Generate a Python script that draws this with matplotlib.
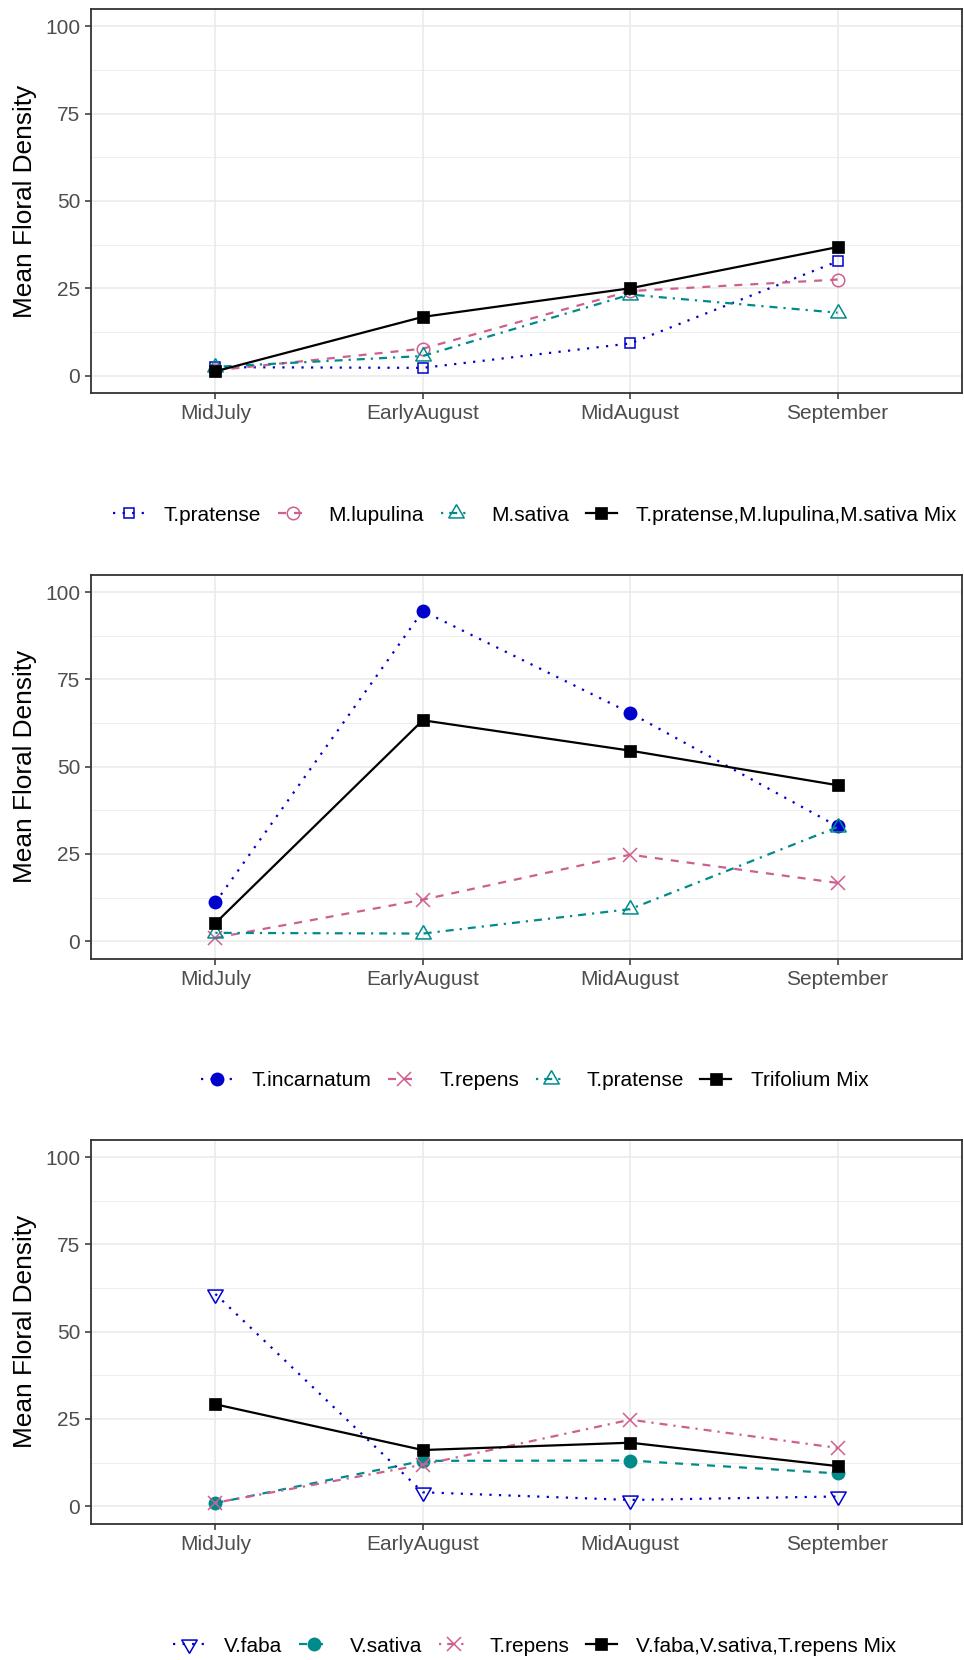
import matplotlib
matplotlib.use("Agg")
import matplotlib.pyplot as plt
from matplotlib.ticker import FixedLocator

plt.rcParams['font.family'] = ['Liberation Sans', 'DejaVu Sans']

periods = ["MidJuly", "EarlyAugust", "MidAugust", "September"]

# Panel 1
p1_names = ["T.pratense", "M.lupulina", "M.sativa", "T.pratense,M.lupulina,M.sativa Mix"]
p1_tpratense = [2.4, 2.2, 9.2, 32.7]
p1_mlupulina = [1.5, 7.7, 24.2, 27.5]
p1_msativa = [2.5, 5.6, 23.2, 18.0]
p1_mix = [1.2, 16.8, 25.0, 36.8]

# Panel 2
p2_names = ["T.incarnatum", "T.repens", "T.pratense", "Trifolium Mix"]
p2_tincarnatum = [11.1, 94.6, 65.4, 32.9]
p2_trepens = [1.0, 11.9, 24.8, 16.7]
p2_tpratense = [2.4, 2.2, 9.2, 32.7]
p2_mix = [5.2, 63.3, 54.6, 44.7]

# Panel 3
p3_names = ["V.faba", "V.sativa", "T.repens", "V.faba,V.sativa,T.repens Mix"]
p3_vfaba = [60.8, 4.0, 1.8, 2.8]
p3_vsativa = [0.9, 13.0, 13.1, 9.4]
p3_trepens = [1.0, 11.9, 24.8, 16.7]
p3_mix = [29.2, 16.1, 18.2, 11.5]

BLUE = "#0000CD"
PINK = "#CD6090"
TEAL = "#008B8B"
BLACK = "#000000"

TRI_UP = [(0, 1), (-0.866, -0.5), (0.866, -0.5), (0, 1)]
TRI_DN = [(0, -1), (-0.866, 0.5), (0.866, 0.5), (0, -1)]

LS_DOT = (0, (1, 3.3))
LS_DASH = (0, (3.6, 3.6))
LS_DOTDASH = (0, (1, 2.7, 3.6, 2.7))

def style(kind, color):
    d = dict(color=color, lw=1.6)
    if kind == "sq_open":
        d.update(marker="s", ms=7.5, mfc="none", mec=color, mew=1.1)
    elif kind == "sq_fill":
        d.update(marker="s", ms=8.0, mfc=color, mec=color, mew=0.5)
    elif kind == "circ_open":
        d.update(marker="o", ms=9.0, mfc="none", mec=color, mew=1.1)
    elif kind == "circ_fill":
        d.update(marker="o", ms=10.0, mfc=color, mec=color, mew=0)
    elif kind == "tri_up":
        d.update(marker=TRI_UP, ms=12.8, mfc="none", mec=color, mew=1.1)
    elif kind == "tri_dn":
        d.update(marker=TRI_DN, ms=12.8, mfc="none", mec=color, mew=1.1)
    elif kind == "x":
        d.update(marker="x", ms=9.5, mec=color, mew=1.1)
    return d

panels = [
    (p1_names,
     [p1_tpratense, p1_mlupulina, p1_msativa, p1_mix],
     [("sq_open", BLUE, LS_DOT), ("circ_open", PINK, LS_DASH),
      ("tri_up", TEAL, LS_DOTDASH), ("sq_fill", BLACK, "-")],
     393.0, 515),
    (p2_names,
     [p2_tincarnatum, p2_trepens, p2_tpratense, p2_mix],
     [("circ_fill", BLUE, LS_DOT), ("x", PINK, LS_DASH),
      ("tri_up", TEAL, LS_DOTDASH), ("sq_fill", BLACK, "-")],
     958.7, 1081),
    (p3_names,
     [p3_vfaba, p3_vsativa, p3_trepens, p3_mix],
     [("tri_dn", BLUE, LS_DOT), ("circ_fill", TEAL, LS_DASH),
      ("x", PINK, LS_DOTDASH), ("sq_fill", BLACK, "-")],
     1523.7, 1646),
]

W, H = 964, 1660
fig = plt.figure(figsize=(W / 100, H / 100), dpi=100)

left_px, right_px = 91.0, 962.0
panel_h = 384.0
x = list(range(1, len(periods) + 1))

for names, series, styles, bottom_px, leg_y in panels:
    ax = fig.add_axes([left_px / W, 1 - bottom_px / H, (right_px - left_px) / W, panel_h / H])
    handles = []
    for name, vals, (kind, color, ls) in zip(names, series, styles):
        kw = style(kind, color)
        ln, = ax.plot(x, vals, linestyle=ls, label=name, **kw)
        handles.append(ln)
    ax.set_xlim(0.4, 4.6)
    ax.set_ylim(-5, 105)
    ax.set_xticks(x)
    ax.set_xticklabels(periods)
    ax.set_yticks([0, 25, 50, 75, 100])
    ax.yaxis.set_minor_locator(FixedLocator([12.5, 37.5, 62.5, 87.5]))
    ax.grid(True, which="major", color="#EBEBEB", lw=1.2)
    ax.grid(True, which="minor", axis="y", color="#EBEBEB", lw=0.6)
    ax.set_axisbelow(True)
    ax.tick_params(axis="both", which="major", length=4.3, width=1.1, color="#333333",
                   labelcolor="#4D4D4D", labelsize=15, pad=3.5)
    ax.tick_params(axis="y", which="minor", length=0)
    for sp in ax.spines.values():
        sp.set_color("#333333")
        sp.set_linewidth(1.3)
    center_y = (bottom_px - panel_h / 2)
    fig.text(24.6 / W, 1 - center_y / H, "Mean Floral Density", rotation=90,
             ha="center", va="center", fontsize=18.9, color="black")
    fig.legend(handles=handles, loc="center", bbox_to_anchor=(535 / W, 1 - leg_y / H),
               ncol=4, frameon=False, fontsize=15, handlelength=1.48,
               handletextpad=0.95, columnspacing=0.8, numpoints=1,
               borderaxespad=0, borderpad=0)

fig.savefig("out.png", dpi=100)
